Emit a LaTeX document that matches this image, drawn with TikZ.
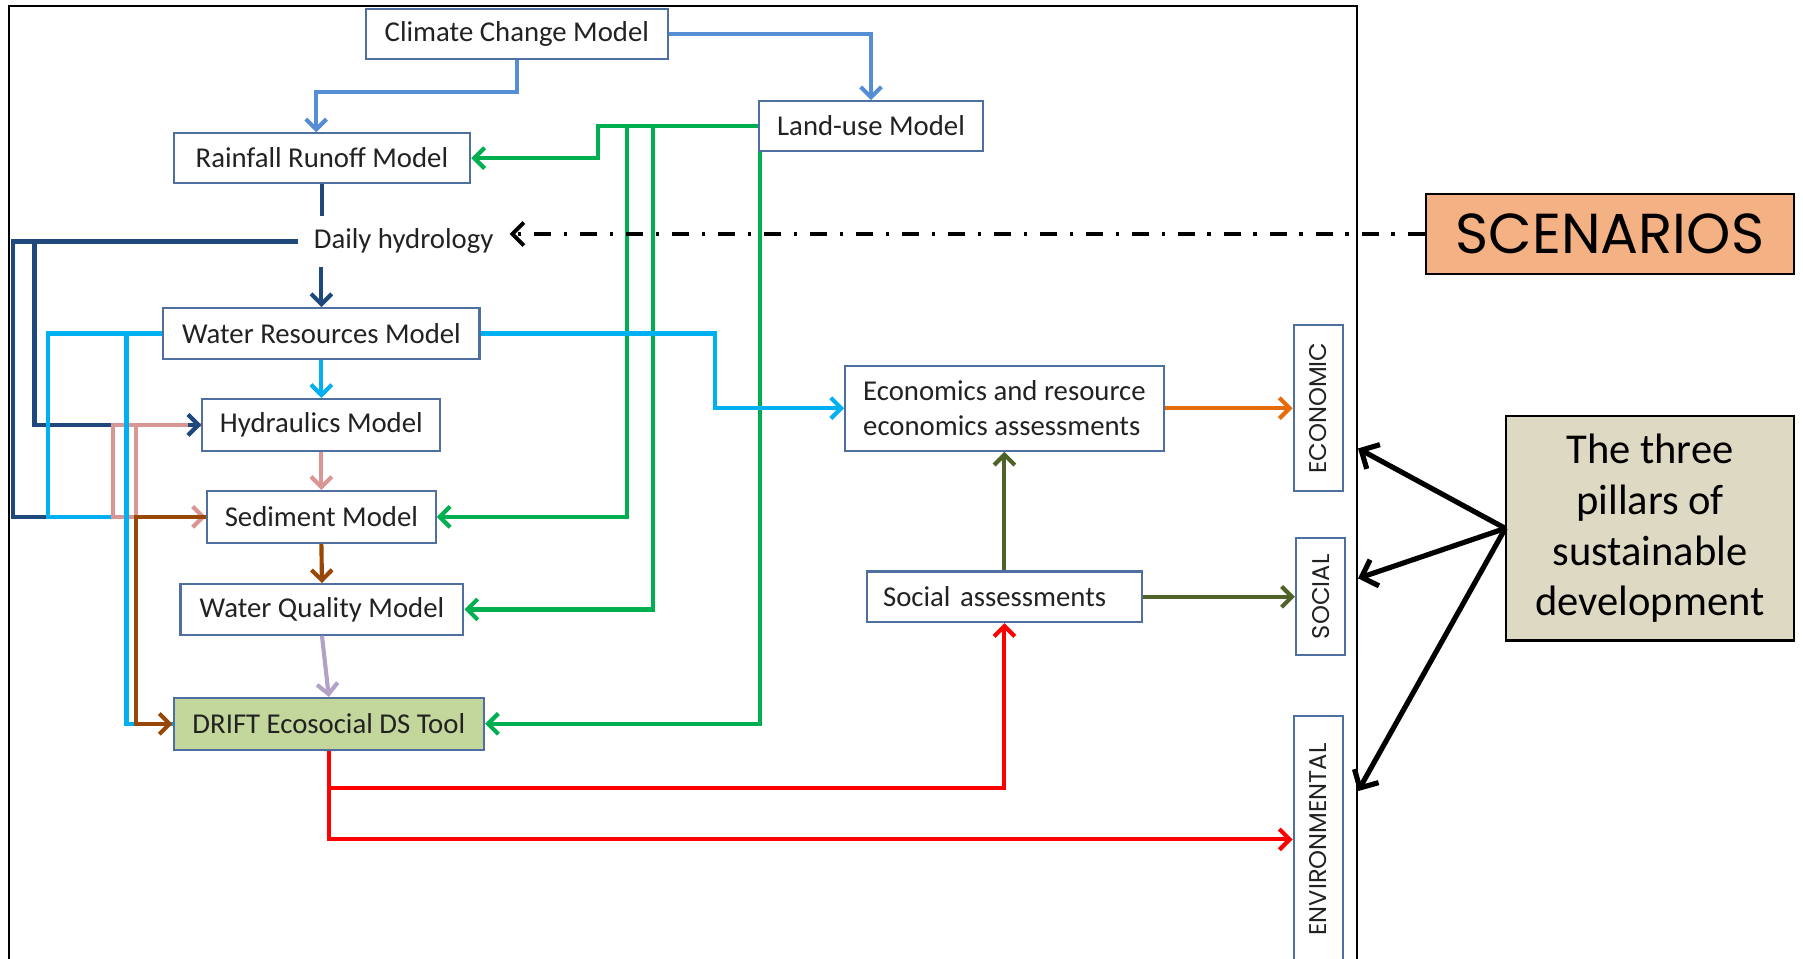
\documentclass[tikz,border=0pt]{standalone}
\usepackage{fontspec}
\usepackage{graphicx}
\setmainfont{Carlito}
\newfontfamily\gothic{Poppins}
\usetikzlibrary{arrows.meta}

\definecolor{boxblue}{HTML}{4F6FA0}
\definecolor{txt}{HTML}{222222}
\definecolor{ccblue}{HTML}{558ED5}
\definecolor{lugreen}{HTML}{00B050}
\definecolor{dkblue}{HTML}{1F497D}
\definecolor{ltblue}{HTML}{00B0F0}
\definecolor{pinkish}{HTML}{D99694}
\definecolor{brownish}{HTML}{974806}
\definecolor{lavender}{HTML}{B3A2C7}
\definecolor{olive}{HTML}{4F6228}
\definecolor{orangeish}{HTML}{E46C0A}
\definecolor{driftgreen}{HTML}{C3D69B}
\definecolor{scenfill}{HTML}{F4B183}
\definecolor{pillfill}{HTML}{DDD9C3}

\begin{document}
\begin{tikzpicture}[x=1pt,y=-1pt,
  box/.style={draw=boxblue, line width=1.8pt, fill=white, inner sep=0pt,
    text=txt, font=\fontsize{25}{30}\selectfont, align=center},
  pillar/.style={draw=boxblue, line width=1.8pt, fill=white, inner sep=0pt,
    minimum width=43pt, text=txt, font=\gothic\fontsize{21}{24}\selectfont},
  link/.style={line width=3.6pt},
  tip/.style={-{Straight Barb[length=9pt,width=18pt]}},
  bigtip/.style={line width=4.5pt,-{Straight Barb[length=12pt,width=24pt]}}
]
\useasboundingbox (0,0) rectangle (1568,834);

% outer frame
\draw[line width=1.6pt] (8,850) -- (8,5) -- (1180,5) -- (1180,850);

% model chain
\node[box, minimum width=263pt, minimum height=43pt] (Climate) at (449.5,29.5) {Climate Change Model};
\node[box, minimum width=195pt, minimum height=43pt] (Land) at (757.5,109.5) {Land-use Model};
\node[box, minimum width=258pt, minimum height=43pt] (Rain) at (280,137.5) {Rainfall Runoff Model};
\node[inner sep=0pt, text=txt, font=\fontsize{25}{30}\selectfont,
      minimum width=184pt, minimum height=44pt] (Daily) at (351,210) {Daily hydrology};
\node[box, minimum width=275pt, minimum height=44pt] (WR) at (279.5,290) {Water Resources Model};
\node[box, minimum width=207pt, minimum height=45pt] (Hyd) at (279.5,369.5) {Hydraulics Model};
\node[box, minimum width=199pt, minimum height=45pt] (Sed) at (279.5,449.5) {Sediment Model};
\node[box, minimum width=246pt, minimum height=44pt] (WQ) at (280,530) {Water Quality Model};
\node[box, fill=driftgreen, minimum width=270pt, minimum height=45pt] (Drift) at (286,629.5) {DRIFT Ecosocial DS Tool};

% assessments
\node[box, minimum width=277pt, minimum height=74pt, align=left,
      font=\fontsize{25}{31}\selectfont] (Econ) at (873.5,355) {Economics and resource\\economics assessments};
\node[box, text width=211pt, inner xsep=14pt, minimum height=44pt, align=left] (Social) at (873.5,519) {Social assessments};

% pillars
\node[pillar, minimum height=144pt] (PEco) at (1146.5,355) {\rotatebox{90}{ECONOMIC}};
\node[pillar, minimum height=102pt] (PSoc) at (1148.5,519) {\rotatebox{90}{SOCIAL}};
\node[pillar, minimum height=214pt] (PEnv) at (1146.5,730) {\rotatebox{90}{ENVIRONMENTAL}};

% side boxes
\node[draw=black, line width=1.8pt, fill=scenfill, minimum width=320pt, minimum height=69pt,
      font=\gothic\fontsize{49}{56}\selectfont] (Scen) at (1400,203.5) {SCENARIOS};
\node[draw=black, line width=1.8pt, fill=pillfill, minimum width=250pt, minimum height=195pt,
      align=center, font=\fontsize{37}{44}\selectfont] (Pillars) at (1435,459.5)
      {The three\\pillars of\\sustainable\\development};

\coordinate (tE) at (1181,390);
\coordinate (tS) at (1181,503);
\coordinate (tV) at (1181,688);

% climate links
\draw[link, ccblue, tip] (Climate.south) -- (Climate.south |- 0,80) -| ([xshift=-5pt]Rain.north);
\draw[link, ccblue, tip] (Climate.east) -| (Land.north);

% land-use links
\draw[link, lugreen, tip] (Land.west) -- (520,109.5) |- (Rain.east);
\draw[link, lugreen, tip] (Land.west) -| (Sed.east -| 545,0) -- (Sed.east);
\draw[link, lugreen, tip] (Land.west) -| (WQ.east -| 568,0) -- (WQ.east);
\draw[link, lugreen, tip] ([xshift=2pt]Land.south west) |- (Drift.east);

% daily hydrology
\draw[link, dkblue] (Rain.south) -- (Rain.south |- Daily.north);
\draw[link, dkblue, tip] (WR.north |- Daily.south) -- (WR.north);
\draw[link, dkblue] (Daily.west) -| (Sed.west -| 11,0) -- (Sed.west);
\draw[link, dkblue, tip] (Daily.west) -| (Hyd.west -| 30,0) -- (Hyd.west);

% water resources
\draw[link, ltblue] (WR.west) -| (Sed.west -| 42,0) -- (Sed.west);
\draw[link, ltblue, tip] (WR.south) -- (Hyd.north);
\draw[link, ltblue, tip] (WR.east) -| (Econ.west -| 622,0) -- (Econ.west);

% hydraulics
\draw[link, pinkish, tip] (Hyd.south) -- (Sed.north);
\draw[link, pinkish, tip] (Hyd.west) -| (Sed.west -| 98,0) -- (Sed.west);
\draw[link, pinkish] (Hyd.west) -| (Sed.west -| 118,0);
\draw[link, ltblue] (WR.west) -| (Drift.west -| 110,0) -- (Drift.west);
\draw[link, dkblue, tip] ([xshift=-12pt]Hyd.west) -- (Hyd.west);

% sediment and water quality
\draw[link, brownish, tip] (Sed.south) -- (WQ.north);
\draw[link, brownish, tip] (Sed.west) -| (Drift.west -| 118,0) -- (Drift.west);
\draw[link, lavender, tip] (WQ.south) -- (Drift.north);

% DRIFT outputs
\draw[link, red, tip] (Drift.south) -- (Drift.south |- 0,685) -| (Social.south);
\draw[link, red, tip] (Drift.south) |- (PEnv.west);

% assessments to pillars
\draw[link, olive, tip] (Social.north) -- (Econ.south);
\draw[link, olive, tip] (Social.east) -- (PSoc.west);
\draw[link, orangeish, tip] (Econ.east) -- (PEco.west);

% scenarios feed
\draw[line width=3.4pt, dash pattern=on 15pt off 11pt on 3pt off 11pt,
      -{Straight Barb[length=10pt,width=20pt]}] (Scen.west) -- (Scen.west -| Daily.east);

% three pillars pointers
\draw[bigtip] (Pillars.west) -- (tE);
\draw[bigtip] (Pillars.west) -- (tS);
\draw[bigtip] (Pillars.west) -- (tV);
\end{tikzpicture}
\end{document}
